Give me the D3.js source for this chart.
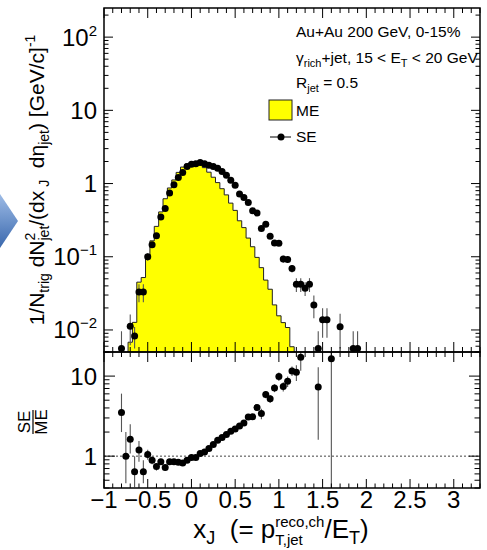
<!DOCTYPE html>
<html>
<head>
<meta charset="utf-8">
<script src="https://cdn.jsdelivr.net/npm/d3@7"></script>
<style>
  body { margin: 0; background: #fff; }
  svg { display: block; font-family: "Liberation Sans", Arial, Helvetica, sans-serif; }
  svg text { white-space: pre; }
</style>
</head>
<body>
<svg id="chart" width="487" height="550"></svg>
<script>
// ---- mixed-event (ME) histogram: bin centres and contents ----
const meBinCenters = [-0.7, -0.65, -0.6, -0.55, -0.5, -0.45, -0.4, -0.35, -0.3, -0.25, -0.2, -0.15, -0.1, -0.05,
  0, 0.05, 0.1, 0.15, 0.2, 0.25, 0.3, 0.35, 0.4, 0.45, 0.5, 0.55, 0.6, 0.65, 0.7, 0.75, 0.8, 0.85, 0.9, 0.95,
  1.0, 1.05, 1.1, 1.15];
const meValues = [0.0068, 0.0127, 0.045, 0.052, 0.095, 0.165, 0.26, 0.41, 0.62, 0.87, 1.12, 1.42, 1.68, 1.85,
  1.9, 1.92, 1.8, 1.65, 1.43, 1.22, 1.03, 0.85, 0.70, 0.54, 0.43, 0.31, 0.25, 0.18, 0.137, 0.098, 0.071, 0.048, 0.036, 0.022,
  0.0156, 0.0126, 0.0108, 0.0059];
const meBinWidth = 0.05;

// ---- same-event (SE) points ----
const seX = [-0.8, -0.7, -0.65, -0.6, -0.55, -0.5, -0.45, -0.4, -0.35, -0.3, -0.25, -0.2, -0.15, -0.1, -0.05,
  0, 0.05, 0.1, 0.15, 0.2, 0.25, 0.3, 0.35, 0.4, 0.45, 0.5, 0.55, 0.6, 0.65, 0.7, 0.75, 0.8, 0.85, 0.9, 0.95,
  1.0, 1.05, 1.1, 1.15, 1.2, 1.25, 1.3, 1.35, 1.4, 1.45, 1.5, 1.55, 1.7, 1.85, 1.9];
const seY = [0.0056, 0.0112, 0.0083, 0.033, 0.033, 0.10, 0.146, 0.193, 0.35, 0.457, 0.74, 0.96, 1.21, 1.41, 1.71,
  1.84, 1.87, 1.94, 1.87, 1.78, 1.71, 1.62, 1.46, 1.30, 1.11, 0.95, 0.72, 0.645, 0.55, 0.425, 0.395, 0.243, 0.279, 0.19, 0.154,
  0.153, 0.093, 0.092, 0.069, 0.042, 0.042, 0.037, 0.042, 0.022, 0.0056, 0.0138, 0.0138, 0.0111, 0.0056, 0.0056];
const seErr = [0.004, 0.005, 0.0027, 0.009, 0.009, 0.012, 0.014, 0.015, 0.02, 0.02, 0.03, 0.03, 0.03, 0.04, 0.04,
  0.04, 0.04, 0.04, 0.04, 0.04, 0.04, 0.04, 0.035, 0.035, 0.03, 0.03, 0.025, 0.025, 0.022, 0.02, 0.02, 0.016, 0.017, 0.014, 0.012,
  0.012, 0.01, 0.01, 0.008, 0.009, 0.009, 0.008, 0.009, 0.0075, 0.004, 0.006, 0.006, 0.0055, 0.004, 0.004];

// ---- SE/ME ratio ----
const ratioX = [-0.8, -0.75, -0.7, -0.65, -0.6, -0.55, -0.5, -0.45, -0.4, -0.35, -0.3, -0.25, -0.2, -0.15, -0.1, -0.05,
  0, 0.05, 0.1, 0.15, 0.2, 0.25, 0.3, 0.35, 0.4, 0.45, 0.5, 0.55, 0.6, 0.65, 0.7, 0.75, 0.8, 0.85, 0.9, 0.95,
  1.0, 1.05, 1.1, 1.15, 1.2, 1.25, 1.45, 1.6];
const ratioY = [3.5, 1.0, 1.63, 0.64, 1.19, 0.64, 1.05, 0.89, 0.74, 0.85, 0.72, 0.85, 0.85, 0.84, 0.82, 0.89,
  0.96, 0.96, 1.08, 1.13, 1.25, 1.40, 1.58, 1.71, 1.86, 2.05, 2.19, 2.38, 2.60, 3.09, 3.1, 4.04, 3.40, 5.9, 5.2, 7.1,
  9.9, 7.4, 8.6, 11.6, 11.2, 17.2, 7.3, 16.5];
const ratioErrLo = [1.5, 0.54, 0.55, 0.23, 0.34, 0.18, 0.15, 0.1, 0.08, 0.07, 0.06, 0.05, 0.05, 0.04, 0.04, 0.04,
  0.04, 0.04, 0.05, 0.05, 0.05, 0.06, 0.07, 0.07, 0.08, 0.09, 0.1, 0.12, 0.15, 0.2, 0.2, 0.3, 0.5, 0.6, 0.6, 0.8,
  1.2, 1.0, 1.3, 1.6, 2.5, 5.5, 5.7, 16.4];
const ratioErrHi = [2.54, 1.0, 0.87, 0.36, 0.36, 0.25, 0.15, 0.1, 0.08, 0.07, 0.06, 0.05, 0.05, 0.04, 0.04, 0.04,
  0.04, 0.04, 0.05, 0.05, 0.05, 0.06, 0.07, 0.07, 0.08, 0.09, 0.1, 0.12, 0.15, 0.2, 0.2, 0.3, 0.5, 0.6, 0.6, 0.8,
  1.2, 1.0, 1.3, 1.6, 2.5, 5.5, 5.6, 30];

// ---- axis tick labels ----
const xTickValues = [-1, -0.5, 0, 0.5, 1, 1.5, 2, 2.5, 3];
const xTickText = ["\u22121", "\u22120.5", "0", "0.5", "1", "1.5", "2", "2.5", "3"];
const topTickValues = [100, 10, 1, 0.1, 0.01];
const topTickBase = ["10", "10", "1", "10", "10"];
const topTickExp = ["2", "", "", "\u22121", "\u22122"];
const ratioTickValues = [10, 1];
const ratioTickText = ["10", "1"];

// ---- layout ----
const svg = d3.select("#chart");
const L = 104, R = 480, T = 8, MID = 352, B = 488;

const x = d3.scaleLinear().domain([-1, 3.3]).range([L, R]);
const yTop = d3.scaleLog().domain([0.005, 250]).range([MID, T]);
const yBot = d3.scaleLog().domain([0.4, 20]).range([B, MID]);

const defs = svg.append("defs");
defs.append("clipPath").attr("id", "clipTop").append("rect")
  .attr("x", L).attr("y", T).attr("width", R - L).attr("height", MID - T);
defs.append("clipPath").attr("id", "clipBot").append("rect")
  .attr("x", L).attr("y", MID).attr("width", R - L).attr("height", B - MID);
const grad = defs.append("linearGradient").attr("id", "arrowGrad")
  .attr("x1", 0).attr("y1", 0).attr("x2", 0).attr("y2", 1);
grad.append("stop").attr("offset", "0%").attr("stop-color", "#9dbbe6");
grad.append("stop").attr("offset", "100%").attr("stop-color", "#3a68ad");

// decorative arrow at the left edge
svg.append("path")
  .attr("d", "M0,194 L18,221 L0,248 Z")
  .attr("fill", "url(#arrowGrad)");

// ---- rich text helper (sub/superscripts, stacked indices) ----
function rich(parent, pieces) {
  const g = parent.append("g");
  let cur = 0, prevStart = 0;
  pieces.forEach(p => {
    const el = g.append("text").attr("font-size", p.size).attr("fill", "#000").text(p.t);
    const w = el.node().getComputedTextLength();
    let sx;
    if (p.stack) { sx = prevStart; cur = Math.max(cur, sx + w); }
    else { sx = cur; cur = sx + w; }
    el.attr("x", sx).attr("y", p.dy || 0);
    prevStart = sx;
  });
  return { g, width: cur };
}

// ---- top panel: ME histogram ----
const topPlot = svg.append("g").attr("clip-path", "url(#clipTop)");
const stepPts = [];
meBinCenters.forEach((c, i) => {
  stepPts.push([c - meBinWidth / 2, meValues[i]]);
  stepPts.push([c + meBinWidth / 2, meValues[i]]);
});
const yFloor = yTop.domain()[0] / 10;
topPlot.append("path")
  .datum(stepPts)
  .attr("d", d3.area().x(d => x(d[0])).y0(yTop(yFloor)).y1(d => yTop(d[1])))
  .attr("fill", "#ffff00");
const outline = [[stepPts[0][0], yFloor], ...stepPts, [stepPts[stepPts.length - 1][0], yFloor]];
topPlot.append("path")
  .datum(outline)
  .attr("d", d3.line().x(d => x(d[0])).y(d => yTop(d[1])))
  .attr("fill", "none").attr("stroke", "#222").attr("stroke-width", 1);

// SE error bars and markers
const seData = seX.map((v, i) => ({ x: v, y: seY[i], e: seErr[i] }));
topPlot.selectAll("line.seErr").data(seData).join("line")
  .attr("class", "seErr")
  .attr("x1", d => x(d.x)).attr("x2", d => x(d.x))
  .attr("y1", d => yTop(Math.max(d.y - d.e, yFloor)))
  .attr("y2", d => yTop(d.y + d.e))
  .attr("stroke", "#555").attr("stroke-width", 1.1);
svg.selectAll("circle.se").data(seData.filter(d => d.y >= yTop.domain()[0])).join("circle")
  .attr("class", "se")
  .attr("cx", d => x(d.x)).attr("cy", d => yTop(d.y)).attr("r", 3.5).attr("fill", "#000");

// ---- bottom panel: ratio ----
const botPlot = svg.append("g").attr("clip-path", "url(#clipBot)");
botPlot.append("line")
  .attr("x1", L).attr("x2", R).attr("y1", yBot(1)).attr("y2", yBot(1))
  .attr("stroke", "#444").attr("stroke-width", 1).attr("stroke-dasharray", "2,2");
const ratioData = ratioX.map((v, i) => ({ x: v, y: ratioY[i], lo: ratioErrLo[i], hi: ratioErrHi[i] }));
botPlot.selectAll("line.rErr").data(ratioData).join("line")
  .attr("class", "rErr")
  .attr("x1", d => x(d.x)).attr("x2", d => x(d.x))
  .attr("y1", d => yBot(Math.max(d.y - d.lo, 0.01)))
  .attr("y2", d => yBot(d.y + d.hi))
  .attr("stroke", "#555").attr("stroke-width", 1.1);
svg.selectAll("circle.ratio").data(ratioData.filter(d => d.y <= yBot.domain()[1])).join("circle")
  .attr("class", "ratio")
  .attr("cx", d => x(d.x)).attr("cy", d => yBot(d.y)).attr("r", 3.5).attr("fill", "#000");

// ---- ticks ----
const ticks = svg.append("g").attr("stroke", "#000").attr("stroke-width", 1);
const xMajor = d3.range(-1, 3.3001, 0.5).map(v => +v.toFixed(2));
const xMinor = d3.range(-1, 3.3001, 0.1).map(v => +v.toFixed(2)).filter(v => !xMajor.includes(v));
function xTicks(vals, yPos, len) {
  vals.forEach(v => ticks.append("line").attr("x1", x(v)).attr("x2", x(v)).attr("y1", yPos).attr("y2", yPos + len));
}
// top panel
xTicks(xMajor, MID, -10); xTicks(xMinor, MID, -5);
xTicks(xMajor, T, 10); xTicks(xMinor, T, 5);
// bottom panel
xTicks(xMajor, MID, 10); xTicks(xMinor, MID, 5);
xTicks(xMajor, B, -9); xTicks(xMinor, B, -4.5);

function logTicks(scale) {
  const [lo, hi] = scale.domain();
  const major = [], minor = [];
  for (let e = Math.floor(Math.log10(lo)); e <= Math.ceil(Math.log10(hi)); e++) {
    for (let m = 1; m <= 9; m++) {
      const v = m * Math.pow(10, e);
      if (v < lo * 0.9999 || v > hi * 1.0001) continue;
      (m === 1 ? major : minor).push(v);
    }
  }
  return { major, minor };
}
function yTicks(scale, vals, len) {
  vals.forEach(v => {
    ticks.append("line").attr("x1", L).attr("x2", L + len).attr("y1", scale(v)).attr("y2", scale(v));
    ticks.append("line").attr("x1", R).attr("x2", R - len).attr("y1", scale(v)).attr("y2", scale(v));
  });
}
const tt = logTicks(yTop);
yTicks(yTop, tt.major, 9); yTicks(yTop, tt.minor, 4.5);
const bt = logTicks(yBot);
yTicks(yBot, bt.major, 11); yTicks(yBot, bt.minor, 5.5);

// ---- frames ----
svg.append("rect").attr("x", L).attr("y", T).attr("width", R - L).attr("height", MID - T)
  .attr("fill", "none").attr("stroke", "#000").attr("stroke-width", 1.5);
svg.append("rect").attr("x", L).attr("y", MID).attr("width", R - L).attr("height", B - MID)
  .attr("fill", "none").attr("stroke", "#000").attr("stroke-width", 1.5);

// ---- tick labels ----
const labFont = 24;
svg.selectAll("text.xlab").data(xTickValues).join("text")
  .attr("class", "xlab")
  .attr("x", d => x(d)).attr("y", 508)
  .attr("text-anchor", "middle").attr("font-size", labFont)
  .text((d, i) => xTickText[i]);

topTickValues.forEach((v, i) => {
  const t = svg.append("text").attr("x", 97).attr("y", yTop(v) + 8.5)
    .attr("text-anchor", "end").attr("font-size", labFont);
  t.append("tspan").text(topTickBase[i]);
  if (topTickExp[i]) t.append("tspan").attr("font-size", 15).attr("dy", -10).text(topTickExp[i]);
});
ratioTickValues.forEach((v, i) => {
  svg.append("text").attr("x", 97).attr("y", yBot(v) + 8.5)
    .attr("text-anchor", "end").attr("font-size", labFont).text(ratioTickText[i]);
});

// ---- axis titles ----
const xt = rich(svg, [
  { t: "x", size: 26 }, { t: "J", size: 18, dy: 6 },
  { t: "  (= p", size: 26 }, { t: "reco,ch", size: 15, dy: -11 }, { t: "T,jet", size: 15, dy: 7, stack: true },
  { t: "/E", size: 26 }, { t: "T", size: 18, dy: 6 }, { t: ")", size: 26 }
]);
xt.g.attr("transform", `translate(${281 - xt.width / 2},538)`);

const yt = rich(svg, [
  { t: "1/N", size: 21 }, { t: "trig", size: 14, dy: 5 },
  { t: " dN", size: 21 }, { t: "2", size: 14, dy: -9 }, { t: "jet", size: 14, dy: 5, stack: true },
  { t: "/(dx", size: 21 }, { t: " J", size: 14, dy: 5 },
  { t: "  d\u03b7", size: 21 }, { t: "jet", size: 14, dy: 5 },
  { t: ") [GeV/c]", size: 21 }, { t: "-1", size: 14, dy: -9 }
]);
yt.g.attr("transform", `translate(44,180) rotate(-90) translate(${-yt.width / 2},0)`);

// SE/ME fraction
const frac = svg.append("g").attr("transform", "translate(33,422) rotate(-90)");
frac.append("text").attr("x", 0).attr("y", -3).attr("text-anchor", "middle").attr("font-size", 17).text("SE");
frac.append("line").attr("x1", -12).attr("x2", 12).attr("y1", 0).attr("y2", 0).attr("stroke", "#000").attr("stroke-width", 1.2);
frac.append("text").attr("x", 0).attr("y", 14).attr("text-anchor", "middle").attr("font-size", 17).text("ME");

// ---- legend and labels ----
const lf = 15.5, sf = 11;
svg.append("text").attr("x", 296).attr("y", 37).attr("font-size", lf).text("Au+Au 200 GeV, 0-15%");
const l2 = rich(svg, [
  { t: "\u03b3", size: lf }, { t: "rich", size: sf, dy: 4 },
  { t: "+jet, 15 < E", size: lf }, { t: "T", size: sf, dy: 4 }, { t: " < 20 GeV", size: lf }
]);
l2.g.attr("transform", "translate(296,63)");
const l3 = rich(svg, [
  { t: "R", size: lf }, { t: "jet", size: sf, dy: 4 }, { t: " = 0.5", size: lf }
]);
l3.g.attr("transform", "translate(296,88)");

svg.append("rect").attr("x", 269).attr("y", 100).attr("width", 23).attr("height", 20)
  .attr("fill", "#ffff00").attr("stroke", "#222").attr("stroke-width", 1);
svg.append("text").attr("x", 296).attr("y", 116).attr("font-size", lf).text("ME");
svg.append("line").attr("x1", 270).attr("x2", 291).attr("y1", 137).attr("y2", 137)
  .attr("stroke", "#000").attr("stroke-width", 1);
svg.append("circle").attr("cx", 281).attr("cy", 137).attr("r", 3.5).attr("fill", "#000");
svg.append("text").attr("x", 296).attr("y", 142).attr("font-size", lf).text("SE");
</script>
</body>
</html>
